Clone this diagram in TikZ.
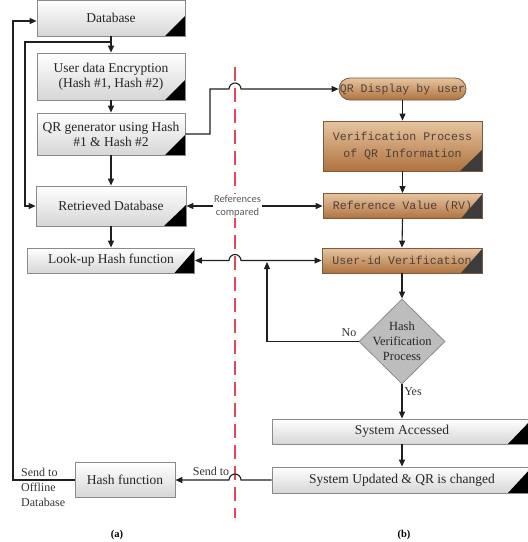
\documentclass[tikz,border=0pt]{standalone}
\usepackage{fontspec}
\setmainfont{Liberation Serif}
\newfontfamily\monof{Liberation Mono}
\newfontfamily\sansf{Carlito}
\usetikzlibrary{arrows.meta,shapes.geometric}
\definecolor{boxedge}{HTML}{8A8A8A}
\definecolor{boxbot}{HTML}{D6D6D6}
\definecolor{brlight}{HTML}{E6C5A0}
\definecolor{brdark}{HTML}{B0723F}
\definecolor{bredge}{HTML}{7A5A40}
\definecolor{brtext}{HTML}{4E4038}
\definecolor{redline}{HTML}{E4465E}
\definecolor{darktri}{HTML}{3C3C3C}
\definecolor{diafill}{HTML}{BDBDBD}
\begin{document}
\begin{tikzpicture}[x=1pt,y=-1pt,
  corner/.style n args={3}{path picture={\fill[#1] (path picture bounding box.south east) -- ++(0pt,#3) -- ++(-#2,-#3) -- cycle;}},
  graybox/.style={draw=boxedge, line width=0.8pt, top color=white, bottom color=boxbot, align=center, inner sep=0pt, text=black!85, font=\fontsize{13.5}{15}\selectfont},
  brownbox/.style={draw=bredge, line width=0.8pt, top color=brlight, bottom color=brdark, align=center, inner sep=0pt, text=brtext, font=\monof\fontsize{11.6}{17}\selectfont},
  conn/.style={draw=black!88, line width=1.1pt},
  lbl/.style={font=\fontsize{12}{15}\selectfont, text=black!80, inner sep=1pt},
  >={Triangle[length=7pt,width=6pt]}]
\useasboundingbox (0,0) rectangle (528,542);
% red divider
\draw[redline, line width=1.4pt, dash pattern=on 14pt off 7pt] (235,67) -- (235,518);
% left column
\node[graybox, corner={black}{20pt}{20pt}, minimum width=148pt, minimum height=36pt] (db) at (111,18) {\raisebox{-3pt}{Database}};
\node[graybox, corner={black}{20pt}{20pt}, minimum width=148pt, minimum height=47pt] (enc) at (111,76.5) {User data Encryption\\(Hash \#1, Hash \#2)};
\node[graybox, corner={black}{20pt}{20pt}, minimum width=148pt, minimum height=42pt] (qr) at (111,134) {QR generator using Hash\\\#1 \& Hash \#2};
\node[graybox, corner={black}{22pt}{21pt}, minimum width=150pt, minimum height=40pt] (ret) at (111,206) {Retrieved Database};
\node[graybox, corner={black}{20pt}{23pt}, minimum width=167pt, minimum height=25pt] (look) at (111,260.5) {Look-up Hash function};
\node[graybox, minimum width=100pt, minimum height=35pt] (hashf) at (125,480) {Hash function};
% right column
\node[brownbox, rounded corners=11pt, minimum width=127pt, minimum height=22pt] (qrd) at (402.5,89) {QR Display by user};
\node[brownbox, corner={darktri}{22pt}{21pt}, minimum width=159pt, minimum height=50pt] (ver) at (402.5,146) {Verification Process\\of QR Information};
\node[brownbox, corner={darktri}{21pt}{24pt}, minimum width=159pt, minimum height=25pt] (rv) at (402.5,206) {Reference Value (RV)};
\node[brownbox, corner={darktri}{21pt}{24pt}, minimum width=160pt, minimum height=25pt] (uid) at (402,260.5) {User-id Verification};
\node[diamond, draw=boxedge, fill=diafill, line width=0.8pt, minimum width=86pt, minimum height=85pt, inner sep=0pt] (dia) at (402,341.5) {};
\node[align=center, font=\fontsize{12.5}{15}\selectfont, text=black!85] (diat) at (dia.center) {Hash\\Verification\\Process};
\node[graybox, corner={black}{24pt}{25pt}, minimum width=260pt, minimum height=25pt] (sa) at (402,431.5) {System Accessed};
\node[graybox, corner={black}{24pt}{26pt}, minimum width=260pt, minimum height=26pt] (su) at (402,480) {System Updated \& QR is changed};
% connectors left
\coordinate (j1) at (111,42);
\draw[conn,->] (db.south) -- (enc.north);
\draw[conn,->] (j1) -| (25,206) -- (ret.west);
\draw[conn,->] (enc.south) -- (qr.north);
\draw[conn,->] (qr.south) -- (ret.north);
\draw[conn,->] (ret.south) -- (look.north);
\draw[conn,->] (hashf.west) -- (13,480) -- (13,21) -- (db.west |- 0,21);
% connectors right
\draw[conn,->] (qr.east) -- (210,134) -- (210,89) -- (229,89) arc[start angle=180,end angle=0,radius=6pt] -- (qrd.west);
\draw[conn,->] (qrd.south) -- (ver.north);
\draw[conn,->] (ver.south) -- (rv.north);
\draw[conn,->] (rv.south) -- (uid.north);
\draw[conn,->] (uid.south) -- (dia.north);
\draw[conn,<->] (uid.west) -- (241,260.5) arc[start angle=0,end angle=180,radius=6pt] -- (look.east);
\draw[conn,->] (dia.west) -| (267,262);
\draw[conn,->] (dia.south) -- (sa.north);
\draw[conn,->] (sa.south) -- (su.north);
\draw[conn,->] (su.west) -- (241,480) arc[start angle=0,end angle=180,radius=6pt] -- (hashf.east);
\draw[conn,<->] (ret.east) -- (rv.west) node[pos=0.375, fill=white, inner sep=1.5pt, align=center, text=black!65, font=\sansf\fontsize{10.5}{13}\selectfont] (refc) {References\\compared};
% labels
\node[lbl] (no) at (349,333) {No};
\node[lbl] (yes) at (413,392) {Yes};
\node[lbl] (sendto) at (211,471) {Send to};
\node[lbl, anchor=north west, align=left] (offl) at (20,467) {Send to\\Offline\\Database};
\node[font=\bfseries\fontsize{10.5}{12}\selectfont] (la) at (117,535) {(a)};
\node[font=\bfseries\fontsize{10.5}{12}\selectfont] (lb) at (404,535) {(b)};
\end{tikzpicture}
\end{document}
